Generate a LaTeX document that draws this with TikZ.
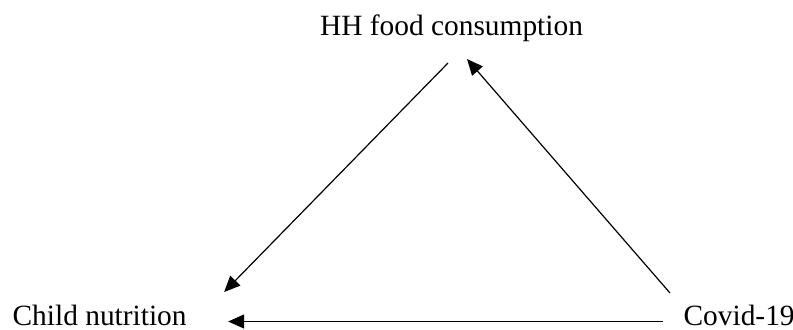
\documentclass[tikz,border=0pt]{standalone}
\usepackage{fontspec}
\setmainfont{Liberation Serif}
\usetikzlibrary{arrows.meta}

\begin{document}
\begin{tikzpicture}[x=0.5pt,y=-0.5pt,->,>={Triangle[length=8pt,width=7pt]},
                    line width=0.6pt]
  \tikzstyle{factor}=[inner sep=0pt,font=\fontsize{14.7}{17}\selectfont]
  \useasboundingbox (0,0) rectangle (793,329);

  \node[factor,anchor=base]      (hh)    at (451.5,35) {HH food consumption};
  \node[factor,anchor=base west] (child) at (12,325)   {Child nutrition};
  \node[factor,anchor=base west] (covid) at (683,325)  {Covid-19};

  \draw ([xshift=-1.75pt,yshift=-14pt]hh.base)
        -- ([xshift=18.5pt,yshift=16.5pt]child.base east);
  \draw ([xshift=-6.5pt,yshift=16pt]covid.base west)
        -- ([xshift=7.75pt,yshift=-12pt]hh.base);
  \draw ([xshift=-10pt,yshift=1.75pt]covid.base west)
        -- ([xshift=20.5pt,yshift=1.75pt]child.base east);
\end{tikzpicture}
\end{document}
